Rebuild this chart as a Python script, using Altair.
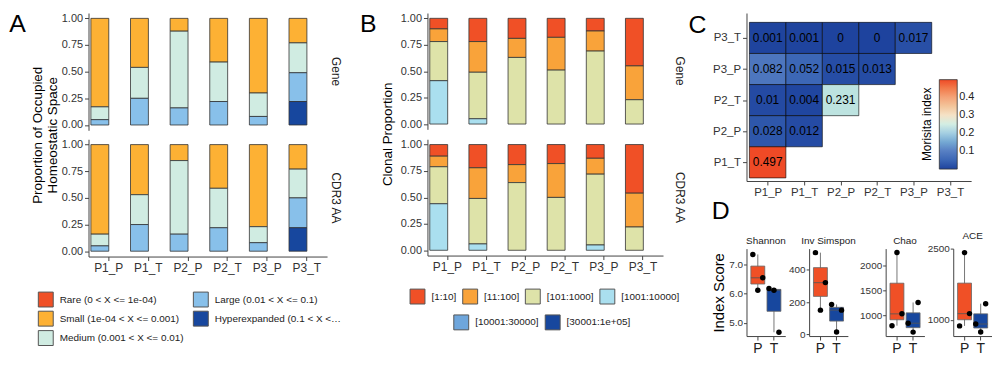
import altair as alt
import pandas as pd

FONT = "Liberation Sans"
samples = ["P1_P", "P1_T", "P2_P", "P2_T", "P3_P", "P3_T"]
facet_types = ["Gene", "CDR3 AA"]

# ---------------- Panel A : homeostatic space ----------------
a_labels = ["Rare (0 < X <= 1e-04)", "Small (1e-04 < X <= 0.001)",
            "Medium (0.001 < X <= 0.01)", "Large (0.01 < X <= 0.1)",
            "Hyperexpanded (0.1 < X <= 1)"]
a_colors = ["#F05026", "#FDB134", "#D0ECE2", "#88C0EA", "#17479E"]
a_rank = [4, 3, 2, 1, 0]

a_gene_rare = [0, 0, 0, 0, 0, 0]
a_gene_small = [0.83, 0.46, 0.12, 0.41, 0.70, 0.23]
a_gene_medium = [0.12, 0.29, 0.72, 0.37, 0.22, 0.28]
a_gene_large = [0.05, 0.25, 0.16, 0.22, 0.08, 0.27]
a_gene_hyper = [0, 0, 0, 0, 0, 0.22]

a_cdr3_rare = [0, 0, 0, 0, 0, 0]
a_cdr3_small = [0.84, 0.47, 0.15, 0.41, 0.77, 0.23]
a_cdr3_medium = [0.11, 0.28, 0.69, 0.37, 0.15, 0.27]
a_cdr3_large = [0.05, 0.25, 0.16, 0.22, 0.08, 0.28]
a_cdr3_hyper = [0, 0, 0, 0, 0, 0.22]

# ---------------- Panel B : clonal proportion ----------------
b_labels = ["[1:10]", "[11:100]", "[101:1000]", "[1001:10000]",
            "[10001:30000]", "[30001:1e+05]"]
b_colors = ["#F05026", "#F9A33A", "#DEE3A9", "#AADFEF", "#6EA6DC", "#17479E"]
b_rank = [5, 4, 3, 2, 1, 0]
b_group = [1, 1, 1, 1, 2, 2]

b_gene_1_10 = [0.10, 0.22, 0.19, 0.18, 0.12, 0.45]
b_gene_11_100 = [0.12, 0.29, 0.18, 0.31, 0.19, 0.32]
b_gene_101_1000 = [0.37, 0.44, 0.63, 0.51, 0.69, 0.23]
b_gene_1001_10000 = [0.41, 0.05, 0, 0, 0, 0]
b_gene_10001_30000 = [0, 0, 0, 0, 0, 0]
b_gene_30001_1e5 = [0, 0, 0, 0, 0, 0]

b_cdr3_1_10 = [0.11, 0.22, 0.19, 0.18, 0.13, 0.46]
b_cdr3_11_100 = [0.10, 0.29, 0.17, 0.32, 0.15, 0.32]
b_cdr3_101_1000 = [0.35, 0.43, 0.64, 0.50, 0.67, 0.22]
b_cdr3_1001_10000 = [0.44, 0.06, 0, 0, 0.05, 0]
b_cdr3_10001_30000 = [0, 0, 0, 0, 0, 0]
b_cdr3_30001_1e5 = [0, 0, 0, 0, 0, 0]

# ---------------- Panel C : Morisita overlap ----------------
c_cols = samples
c_rows = ["P1_T", "P2_P", "P2_T", "P3_P", "P3_T"]          # bottom to top
c_x = ["P1_P", "P1_T", "P2_P", "P2_T", "P3_P",
       "P1_P", "P1_T", "P2_P", "P2_T",
       "P1_P", "P1_T", "P2_P",
       "P1_P", "P1_T",
       "P1_P"]
c_y = ["P3_T"] * 5 + ["P3_P"] * 4 + ["P2_T"] * 3 + ["P2_P"] * 2 + ["P1_T"]
c_val = [0.001, 0.001, 0, 0, 0.017,
         0.082, 0.052, 0.015, 0.013,
         0.01, 0.004, 0.231,
         0.028, 0.012,
         0.497]
c_domain = [0, 0.05, 0.1, 0.2, 0.25, 0.3, 0.4, 0.497]
c_range = ["#1E439E", "#3B66B5", "#577FC3", "#A4CFE2", "#D3EEE3",
           "#F5E2C6", "#F4A277", "#EF4A26"]

# ---------------- Panel D : diversity indices ----------------
d_groups = ["P", "T"]
d_patients = ["P1", "P2", "P3"]
shannon_P = [7.35, 6.12, 6.55]
shannon_T = [6.18, 6.12, 4.68]
invsimp_P = [505, 150, 320]
invsimp_T = [185, 15, 150]
chao_P = [790, 2270, 1030]
chao_T = [840, 660, 1260]
ace_P = [870, 2420, 1130]
ace_T = [910, 740, 1340]
group_colors = ["#F05026", "#17479E"]

# ---------------- data tables ----------------
a_values = {
    "Gene": [a_gene_rare, a_gene_small, a_gene_medium, a_gene_large, a_gene_hyper],
    "CDR3 AA": [a_cdr3_rare, a_cdr3_small, a_cdr3_medium, a_cdr3_large, a_cdr3_hyper],
}
rows = []
for t in facet_types:
    for ci, series in enumerate(a_values[t]):
        for s, v in zip(samples, series):
            if v > 0:
                rows.append(dict(type=t, sample=s, cat=a_labels[ci], rank=a_rank[ci], value=v))
df_a = pd.DataFrame(rows)

b_values = {
    "Gene": [b_gene_1_10, b_gene_11_100, b_gene_101_1000, b_gene_1001_10000,
             b_gene_10001_30000, b_gene_30001_1e5],
    "CDR3 AA": [b_cdr3_1_10, b_cdr3_11_100, b_cdr3_101_1000, b_cdr3_1001_10000,
                b_cdr3_10001_30000, b_cdr3_30001_1e5],
}
rows = []
for t in facet_types:
    for ci, series in enumerate(b_values[t]):
        for s, v in zip(samples, series):
            rows.append(dict(type=t, sample=s, cat=b_labels[ci], rank=b_rank[ci],
                             grp=b_group[ci], value=v))
df_b = pd.DataFrame(rows)

df_c = pd.DataFrame({"x": c_x, "y": c_y, "val": c_val,
                     "label": [f"{v:g}" for v in c_val],
                     "xi": [c_cols.index(v) for v in c_x],
                     "yi": [c_rows.index(v) for v in c_y]})

# ---------------- common pieces ----------------
yvals = [0, 0.25, 0.5, 0.75, 1]


def row_header(title, title_pad, label_pad):
    return alt.Row("type:N", sort=facet_types, title=title,
                   header=alt.Header(titleOrient="left", labelOrient="right", labelAngle=90,
                                     labelBaseline="middle",
                                     labelFontSize=12, labelFont=FONT, labelPadding=label_pad,
                                     labelColor="#222222", titleFont=FONT, titleFontSize=13.5,
                                     titleLineHeight=15,
                                     titleFontWeight="normal", titleColor="black",
                                     titlePadding=title_pad))


def panel_title(letter, offset):
    return alt.TitleParams(letter, orient="left", anchor="end", angle=0, baseline="top",
                           align="right", frame="bounds", fontSize=25,
                           fontWeight="normal", font=FONT, offset=offset, color="black")


def legend_sym(**kw):
    return alt.Legend(title=None, orient="none", symbolType="square", symbolSize=225,
                      symbolStrokeColor="#555555", symbolStrokeWidth=1, labelFontSize=10,
                      labelOffset=6, **kw)


# ---------------- Panel A chart ----------------
chart_a = alt.Chart(df_a).mark_bar(stroke="#333333", strokeWidth=0.8).encode(
    x=alt.X("sample:N", sort=samples,
            scale=alt.Scale(domain=samples, paddingInner=0.1, paddingOuter=0.06),
            axis=alt.Axis(title=None, labelAngle=0, labelFontSize=12)),
    y=alt.Y("value:Q", stack="zero",
            scale=alt.Scale(domain=[-0.05, 1.05], nice=False, zero=False),
            axis=alt.Axis(title=None, values=yvals, format=".2f")),
    fill=alt.Fill("cat:N", scale=alt.Scale(domain=a_labels, range=a_colors),
                  legend=legend_sym(legendX=-51, legendY=280, columns=2, direction="vertical",
                                    rowPadding=-0.5, columnPadding=7, labelLimit=128)),
    order=alt.Order("rank:Q", sort="ascending"),
).properties(width=240, height=118).facet(
    row=row_header(["Proportion of Occupied", "Homeostatic Space"], -9, -3),
    spacing=9,
    title=panel_title("A", -11),
)

# ---------------- Panel B chart ----------------
b_x = alt.X("sample:N", sort=samples,
            scale=alt.Scale(domain=samples, paddingInner=0.1, paddingOuter=0.06),
            axis=alt.Axis(title=None, labelAngle=0, labelFontSize=12))
b_y = alt.Y("value:Q", stack="zero",
            scale=alt.Scale(domain=[-0.05, 1.05], nice=False, zero=False),
            axis=alt.Axis(title=None, values=yvals, format=".2f"))
b_main = alt.Chart().mark_bar(stroke="#333333", strokeWidth=0.8).encode(
    x=b_x, y=b_y,
    fill=alt.Fill("cat:N", scale=alt.Scale(domain=b_labels[:4], range=b_colors[:4]),
                  legend=legend_sym(legendX=-18, legendY=277, columns=4,
                                    direction="horizontal", columnPadding=3)),
    order=alt.Order("rank:Q", sort="ascending"),
).transform_filter("datum.grp == 1 && datum.value > 0")
b_extra = alt.Chart().mark_bar(strokeWidth=0).encode(
    x=b_x, y=b_y,
    color=alt.Color("cat:N", scale=alt.Scale(domain=b_labels[4:], range=b_colors[4:]),
                    legend=legend_sym(legendX=26, legendY=303, columns=2,
                                      direction="horizontal", columnPadding=4)),
    order=alt.Order("rank:Q", sort="ascending"),
).transform_filter("datum.grp == 2")
chart_b = alt.layer(b_main, b_extra, data=df_b).properties(
    width=237, height=117).facet(
    row=row_header("Clonal Proportion", -5, 5),
    spacing=10,
    title=panel_title("B", -12),
)

# ---------------- Panel C chart ----------------
col_expr = "[" + ",".join(f"'{s}'" for s in c_cols) + "][floor(datum.value)]"
row_expr = "[" + ",".join(f"'{s}'" for s in c_rows) + "][floor(datum.value)]"
c_xscale = alt.Scale(domain=[-0.08, 6.08], nice=False, zero=False)
c_yscale = alt.Scale(domain=[-0.1, 5.3], nice=False, zero=False)
c_base = alt.Chart(df_c).transform_calculate(
    xe="datum.xi + 1", ye="datum.yi + 1", xm="datum.xi + 0.5", ym="datum.yi + 0.5")
c_rect = c_base.mark_rect(stroke="black", strokeWidth=0.6).encode(
    x=alt.X("xi:Q", scale=c_xscale,
            axis=alt.Axis(title=None, values=[0.5, 1.5, 2.5, 3.5, 4.5, 5.5],
                          labelExpr=col_expr, labelFontSize=11.5)),
    x2="xe:Q",
    y=alt.Y("yi:Q", scale=c_yscale,
            axis=alt.Axis(title=None, values=[0.5, 1.5, 2.5, 3.5, 4.5],
                          labelExpr=row_expr, labelFontSize=11.5)),
    y2="ye:Q",
    fill=alt.Fill("val:Q", scale=alt.Scale(domain=c_domain, range=c_range),
                  legend=alt.Legend(title="Morisita index", titleOrient="left",
                                    orient="none", legendX=176, legendY=67,
                                    gradientLength=90, gradientThickness=18,
                                    values=[0.1, 0.2, 0.3, 0.4], labelFontSize=11,
                                    titleFontSize=12, titleFontWeight="normal",
                                    titlePadding=4,
                                    gradientStrokeColor="#333333", gradientStrokeWidth=0.8)),
)
c_text = c_base.mark_text(font=FONT, fontSize=12, color="black").encode(
    x=alt.X("xm:Q", scale=c_xscale), y=alt.Y("ym:Q", scale=c_yscale), text="label:N")
chart_c = alt.layer(c_rect, c_text).properties(
    width=226, height=169, title=panel_title("C", -12))


# ---------------- Panel D chart ----------------
def box_panel(name, vals_p, vals_t, domain, ticks, fmt, ytitle):
    df = pd.DataFrame({"grp": ["P"] * 3 + ["T"] * 3,
                       "val": vals_p + vals_t,
                       "patient": d_patients * 2})
    xenc = alt.X("grp:N", scale=alt.Scale(type="band", domain=d_groups, paddingInner=0.2, paddingOuter=0.3),
                 axis=alt.Axis(title=None, labelAngle=0, labelFontSize=14, labelColor="#222"))
    yscale = alt.Scale(domain=domain, nice=False, zero=False)
    yaxis = alt.Axis(title=ytitle, values=ticks, format=fmt, titleFontWeight="normal",
                     titleFontSize=15, titlePadding=2, labelFontSize=10, tickSize=3,
                     labelPadding=1) if ytitle else \
        alt.Axis(title=None, values=ticks, format=fmt, labelFontSize=10, tickSize=3,
                 labelPadding=1)
    base = alt.Chart(df)
    agg = base.transform_aggregate(
        q1="q1(val)", q3="q3(val)", med="median(val)", lo="min(val)", hi="max(val)",
        groupby=["grp"])
    whisk = agg.mark_rule(color="#777777", strokeWidth=1).encode(
        x=xenc, y=alt.Y("lo:Q", scale=yscale, axis=yaxis), y2="hi:Q")
    box = agg.mark_bar(size=14, stroke="#666666", strokeWidth=0.8).encode(
        x=xenc, y=alt.Y("q1:Q", scale=yscale), y2="q3:Q",
        fill=alt.Fill("grp:N", scale=alt.Scale(domain=d_groups, range=group_colors), legend=None))
    med = agg.mark_tick(size=14, thickness=1.2, color="#555555", orient="horizontal").encode(
        x=xenc, y=alt.Y("med:Q", scale=yscale))
    pts = base.mark_circle(size=30, color="black", opacity=1).encode(
        x=xenc, xOffset=alt.XOffset("patient:N", scale=alt.Scale(paddingOuter=0.3)),
        y=alt.Y("val:Q", scale=yscale))
    return alt.layer(whisk, box, med, pts).properties(
        width=39, height=88,
        title=alt.TitleParams(name, fontSize=10, fontWeight="normal", font=FONT,
                              color="#222", offset=3))


d1 = box_panel("Shannon", shannon_P, shannon_T, [4.55, 7.55], [5.0, 5.5, 6.0, 6.5, 7.0, 7.5], ".1f", "Index Score")
d2 = box_panel("Inv Simspon", invsimp_P, invsimp_T, [-10, 530], [0, 100, 200, 300, 400, 500], "d", None)
d3 = box_panel("Chao", chao_P, chao_T, [580, 2350], [1000, 1500, 2000], "d", None)
d4 = box_panel("ACE", ace_P, ace_T, [655, 2505], [1000, 1500, 2000, 2500], "d", None)
chart_d = alt.hconcat(
    d1, d2, d3, d4, spacing=2,
    title=alt.TitleParams("D", anchor="start", frame="bounds", orient="top", fontSize=25,
                          fontWeight="normal", font=FONT, offset=-18, baseline="bottom",
                          color="black")).resolve_scale(
    fill="independent", x="independent", y="independent")

chart_cd = alt.concat(chart_c, chart_d, columns=1, spacing=0, align="none").resolve_scale(
    fill="independent", x="independent", y="independent")

chart_ab = alt.hconcat(chart_a, chart_b, spacing=18).resolve_scale(
    fill="independent", color="independent", x="independent", y="independent")

chart = alt.hconcat(chart_ab, chart_cd, spacing=2).resolve_scale(
    fill="independent", color="independent", x="independent", y="independent").configure_axis(
    labelFont=FONT, titleFont=FONT, labelColor="#333333", domainColor="#444444",
    tickColor="#444444", grid=False, titleFontWeight="normal", titleFontSize=14,
    labelFontSize=11, titleColor="black", tickSize=4
).configure_view(strokeWidth=0).configure_legend(
    labelFont=FONT, titleFont=FONT, labelColor="#222222"
).configure_title(font=FONT).properties(padding={"left": 1, "top": 3, "right": 0, "bottom": 0})

chart.save("out.html", embed_options={"renderer": "svg", "actions": False})
